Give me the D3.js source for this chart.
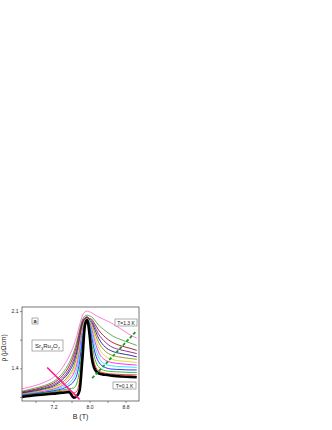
<!DOCTYPE html>
<html>
<head>
<meta charset="utf-8">
<script src="https://cdn.jsdelivr.net/npm/d3@7"></script>
<style>
  html, body { margin: 0; padding: 0; background: #fff; }
  text { font-family: "Liberation Sans", Arial, sans-serif; }
</style>
</head>
<body>
<div id="main_chart"></div>
<script>
// field values (T)
const fields = [6.5, 6.8, 7.0, 7.2, 7.4, 7.55, 7.65, 7.72, 7.78, 7.84, 7.9, 7.95,
                8.0, 8.05, 8.1, 8.2, 8.35, 8.5, 8.7, 8.9, 9.05];

const temps = ["0.1", "0.2", "0.3", "0.4", "0.5", "0.6", "0.7", "0.8", "0.9", "1.0", "1.1", "1.2", "1.3"];
const colors = ["#000000", "#ff0000", "#00b000", "#0000ff", "#00e5ff", "#ff00ff", "#d8d800",
                "#808000", "#000080", "#800080", "#800000", "#3a9a3a", "#ff5ccd"];

// resistivity (μΩcm) per temperature
const rho01 = [1.05, 1.07, 1.08, 1.09, 1.10, 1.11, 1.04, 1.06, 1.13, 1.50, 1.93, 1.99, 1.82, 1.53, 1.41, 1.34, 1.32, 1.31, 1.30, 1.295, 1.29];
const rho02 = [1.06, 1.08, 1.09, 1.105, 1.12, 1.125, 1.10, 1.12, 1.26, 1.58, 1.94, 1.99, 1.87, 1.62, 1.48, 1.37, 1.34, 1.33, 1.325, 1.32, 1.32];
const rho03 = [1.065, 1.085, 1.10, 1.115, 1.135, 1.15, 1.16, 1.22, 1.38, 1.66, 1.94, 1.99, 1.91, 1.71, 1.56, 1.42, 1.37, 1.36, 1.355, 1.35, 1.35];
const rho04 = [1.07, 1.09, 1.105, 1.125, 1.15, 1.19, 1.24, 1.32, 1.48, 1.74, 1.95, 2.00, 1.93, 1.78, 1.64, 1.48, 1.41, 1.39, 1.385, 1.38, 1.38];
const rho05 = [1.075, 1.095, 1.11, 1.135, 1.17, 1.22, 1.29, 1.39, 1.56, 1.80, 1.96, 2.00, 1.95, 1.84, 1.71, 1.54, 1.45, 1.43, 1.42, 1.415, 1.41];
const rho06 = [1.08, 1.10, 1.12, 1.145, 1.19, 1.26, 1.34, 1.45, 1.62, 1.85, 1.97, 2.00, 1.96, 1.88, 1.77, 1.60, 1.50, 1.47, 1.455, 1.445, 1.44];
const rho07 = [1.085, 1.105, 1.13, 1.155, 1.21, 1.29, 1.38, 1.50, 1.67, 1.88, 1.98, 2.01, 1.97, 1.91, 1.82, 1.66, 1.55, 1.51, 1.49, 1.48, 1.47];
const rho08 = [1.09, 1.115, 1.14, 1.17, 1.23, 1.32, 1.42, 1.55, 1.72, 1.91, 1.99, 2.01, 1.98, 1.94, 1.86, 1.72, 1.61, 1.56, 1.535, 1.52, 1.51];
const rho09 = [1.095, 1.125, 1.15, 1.185, 1.26, 1.36, 1.47, 1.60, 1.76, 1.93, 2.00, 2.02, 1.99, 1.96, 1.90, 1.77, 1.66, 1.61, 1.58, 1.56, 1.54];
const rho10 = [1.10, 1.135, 1.16, 1.20, 1.28, 1.39, 1.51, 1.64, 1.80, 1.95, 2.01, 2.02, 2.00, 1.98, 1.93, 1.82, 1.72, 1.66, 1.625, 1.60, 1.58];
const rho11 = [1.11, 1.145, 1.175, 1.22, 1.31, 1.43, 1.56, 1.69, 1.84, 1.97, 2.02, 2.03, 2.01, 2.00, 1.96, 1.87, 1.78, 1.72, 1.675, 1.645, 1.62];
const rho12 = [1.12, 1.16, 1.19, 1.24, 1.34, 1.47, 1.60, 1.73, 1.87, 1.99, 2.04, 2.05, 2.04, 2.03, 2.00, 1.93, 1.86, 1.80, 1.75, 1.71, 1.68];
const rho13 = [1.15, 1.19, 1.23, 1.29, 1.41, 1.55, 1.68, 1.80, 1.93, 2.04, 2.09, 2.10, 2.09, 2.08, 2.06, 2.03, 1.99, 1.95, 1.88, 1.81, 1.77];
const series = [rho01, rho02, rho03, rho04, rho05, rho06, rho07, rho08, rho09, rho10, rho11, rho12, rho13];

// guide lines (B, rho) end points
const pinkGuide = [[7.06, 1.41], [7.78, 1.02]];
const greenGuide = [[8.06, 1.28], [9.05, 1.86]];

const xTicks = [6.8, 7.2, 7.6, 8.0, 8.4, 8.8];
const xLabels = ["7.2", "8.0", "8.8"];
const yTicks = [1.05, 1.4, 1.75, 2.1];
const yLabels = ["1.4", "2.1"];

const width = 332;
const height = 430;
const plotLeft = 22, plotRight = 139, plotTop = 307, plotBottom = 401;

const xScale = d3.scaleLinear().domain([6.5, 9.1]).range([plotLeft, plotRight]);
const yScale = d3.scaleLinear().domain([1.0, 2.15]).range([plotBottom, plotTop]);

const line = d3.line()
  .x((d, i) => xScale(fields[i]))
  .y((d) => yScale(d))
  .curve(d3.curveMonotoneX);

const svg = d3.create("svg").attr("width", width).attr("height", height);

svg.append("defs").append("clipPath").attr("id", "plot")
  .append("rect").attr("x", plotLeft).attr("y", plotTop)
  .attr("width", plotRight - plotLeft).attr("height", plotBottom - plotTop);

// x-axis
const xAxis = svg.append("g")
  .attr("transform", `translate(0,${plotBottom})`)
  .call(d3.axisBottom(xScale).tickValues(xTicks).tickSize(2).tickPadding(2)
    .tickFormat((d) => xLabels.includes(d.toFixed(1)) ? d.toFixed(1) : ""));
xAxis.select(".domain").remove();
xAxis.selectAll("line").attr("stroke", "#444").attr("stroke-width", 0.6);
xAxis.selectAll("text").attr("font-size", 5).attr("fill", "#222");

// y-axis
const yAxis = svg.append("g")
  .attr("transform", `translate(${plotLeft},0)`)
  .call(d3.axisLeft(yScale).tickValues(yTicks).tickSize(2).tickPadding(1.5)
    .tickFormat((d) => yLabels.includes(d.toFixed(2).replace(/0$/, "")) ? d.toFixed(1) : ""));
yAxis.select(".domain").remove();
yAxis.selectAll("line").attr("stroke", "#444").attr("stroke-width", 0.6);
yAxis.selectAll("text").attr("font-size", 5).attr("fill", "#222");

const plot = svg.append("g").attr("clip-path", "url(#plot)");

// curves, highest temperature first so the 0.1 K curve ends on top
series.slice().reverse().forEach((s, k) => {
  const i = series.length - 1 - k;
  plot.append("path")
    .attr("fill", "none")
    .attr("stroke", colors[i])
    .attr("stroke-width", i === 0 ? 2.6 : 0.8)
    .attr("stroke-linejoin", "round")
    .attr("d", line(s));
});

const seg = d3.line().x((p) => xScale(p[0])).y((p) => yScale(p[1]));

plot.append("path")
  .attr("fill", "none")
  .attr("stroke", "#ff1a8c")
  .attr("stroke-width", 1.6)
  .attr("d", seg(pinkGuide));

plot.append("path")
  .attr("fill", "none")
  .attr("stroke", "#1a9a1a")
  .attr("stroke-width", 1.8)
  .attr("stroke-dasharray", "3,2")
  .attr("d", seg(greenGuide));

// frame
svg.append("rect")
  .attr("x", plotLeft).attr("y", plotTop)
  .attr("width", plotRight - plotLeft).attr("height", plotBottom - plotTop)
  .attr("fill", "none").attr("stroke", "#555").attr("stroke-width", 0.8);

// labels
svg.append("text")
  .attr("x", (plotLeft + plotRight) / 2).attr("y", 419)
  .attr("text-anchor", "middle").attr("font-size", 7).attr("fill", "#222")
  .text("B (T)");

svg.append("text")
  .attr("transform", `translate(6,348) rotate(-90)`)
  .attr("text-anchor", "middle").attr("font-size", 6.5).attr("fill", "#222")
  .text("ρ (μΩcm)");

// boxed annotations
function box(x, y, w, h) {
  svg.append("rect").attr("x", x).attr("y", y).attr("width", w).attr("height", h)
    .attr("fill", "#fff").attr("stroke", "#777").attr("stroke-width", 0.6);
}

box(32, 318, 6, 6);
svg.append("text").attr("x", 35).attr("y", 323).attr("text-anchor", "middle")
  .attr("font-size", 5.5).attr("font-weight", "bold").attr("fill", "#222").text("a");

box(32, 340, 31, 11);
const sr = svg.append("text").attr("x", 47.5).attr("y", 348).attr("text-anchor", "middle")
  .attr("font-size", 6).attr("fill", "#222");
sr.append("tspan").text("Sr");
sr.append("tspan").attr("font-size", 4).attr("dy", 1.5).text("3");
sr.append("tspan").attr("dy", -1.5).text("Ru");
sr.append("tspan").attr("font-size", 4).attr("dy", 1.5).text("2");
sr.append("tspan").attr("dy", -1.5).text("O");
sr.append("tspan").attr("font-size", 4).attr("dy", 1.5).text("7");

box(115, 319, 22, 7);
svg.append("text").attr("x", 126).attr("y", 324.5).attr("text-anchor", "middle")
  .attr("font-size", 5).attr("fill", "#222").text(`T=${temps[12]} K`);

box(113, 382, 23, 7);
svg.append("text").attr("x", 124.5).attr("y", 387.5).attr("text-anchor", "middle")
  .attr("font-size", 5).attr("fill", "#222").text(`T=${temps[0]} K`);

document.getElementById("main_chart").append(svg.node());
</script>
</body>
</html>
